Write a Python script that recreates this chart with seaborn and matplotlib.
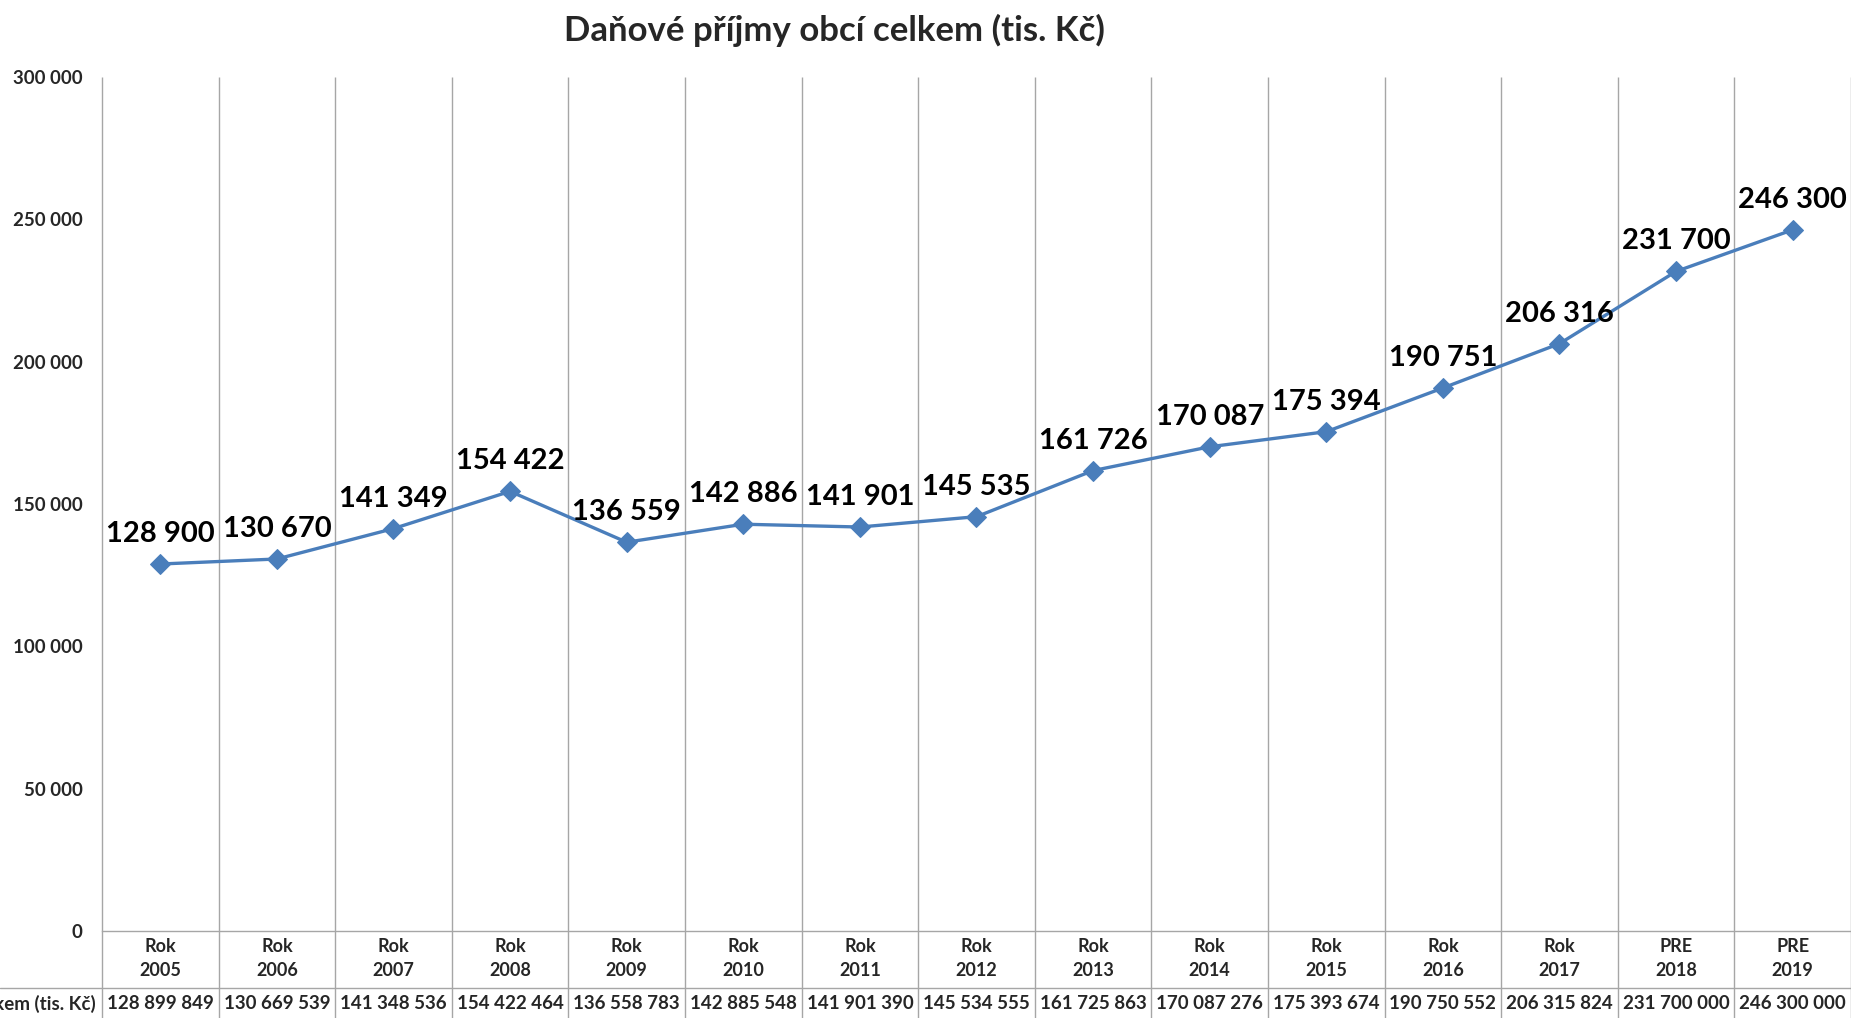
import matplotlib
matplotlib.use("Agg")
import matplotlib.pyplot as plt
import matplotlib.transforms as mtransforms
import pandas as pd
import seaborn as sns

categories = ["Rok\n2005", "Rok\n2006", "Rok\n2007", "Rok\n2008", "Rok\n2009",
              "Rok\n2010", "Rok\n2011", "Rok\n2012", "Rok\n2013", "Rok\n2014",
              "Rok\n2015", "Rok\n2016", "Rok\n2017", "PRE\n2018", "PRE\n2019"]
table_values = [128899849, 130669539, 141348536, 154422464, 136558783,
                142885548, 141901390, 145534555, 161725863, 170087276,
                175393674, 190750552, 206315824, 231700000, 246300000]
row_header = "Celkem (tis. Kč)"
title = "Daňové příjmy obcí celkem (tis. Kč)"
y_ticks = [0, 50000, 100000, 150000, 200000, 250000, 300000]


def fmt(v):
    return f"{v:,}".replace(",", " ")


sns.set_style("white")
plt.rcParams["font.family"] = ["Lato", "DejaVu Sans"]

df = pd.DataFrame({"pos": range(len(categories)),
                   "value": [v / 1000 for v in table_values]})

fig = plt.figure(figsize=(18.51, 10.18), dpi=100)
ax = fig.add_axes([0.0551, 0.0855, 0.9449, 0.8389])

blue = "#4a7ebb"
grid_c = "#a6a6a6"

sns.lineplot(data=df, x="pos", y="value", ax=ax, color=blue, linewidth=2.4,
             marker="D", markersize=10, markeredgecolor=blue, zorder=3)

# data labels
for x, v in zip(df["pos"], df["value"]):
    ax.annotate(fmt(round(v)), (x, v), xytext=(0, 22), textcoords="offset pixels",
                ha="center", va="baseline", fontsize=21, fontweight="bold",
                color="black", zorder=4)

ax.set_xlim(-0.5, len(categories) - 0.5)
ax.set_ylim(0, 300000)
ax.set_yticks(y_ticks, [fmt(t) for t in y_ticks])
ax.set_xticks(range(len(categories)), categories)
ax.tick_params(axis="y", length=0, pad=14, labelsize=13.5)
ax.tick_params(axis="x", length=0, pad=5, labelsize=13)
for lab in ax.get_yticklabels() + ax.get_xticklabels():
    lab.set_fontweight("bold")
for lab in ax.get_xticklabels():
    lab.set_linespacing(1.5)
ax.set_xlabel("")
ax.set_ylabel("")
ax.grid(False)

for s in ["top", "right", "left"]:
    ax.spines[s].set_visible(False)
ax.spines["bottom"].set_color(grid_c)
ax.spines["bottom"].set_linewidth(1)

# vertical category dividers, running down through the data table
tb_bottom = -0.102
row_line = -0.0667
bounds = [i - 0.5 for i in range(len(categories) + 1)]
ax.vlines(bounds, tb_bottom, 1, transform=ax.get_xaxis_transform(),
          colors=grid_c, linewidth=1, clip_on=False, zorder=1)

# horizontal line between category row and value row (to figure left edge)
trans = mtransforms.blended_transform_factory(fig.transFigure, ax.transAxes)
ax.plot([0, 1], [row_line, row_line], transform=trans, color=grid_c,
        linewidth=1, clip_on=False)

# value row of the data table
for x, v in zip(df["pos"], table_values):
    ax.text(x, -0.0855, fmt(v), transform=ax.get_xaxis_transform(),
            ha="center", va="center", fontsize=13.5, fontweight="bold")
ax.text(-0.55, -0.0855, row_header, transform=ax.get_xaxis_transform(),
        ha="right", va="center", fontsize=13.5, fontweight="bold")

fig.text(0.451, 0.9705, title, ha="center", va="center", fontsize=25,
         fontweight="bold")

fig.savefig("out.png", dpi=100)
